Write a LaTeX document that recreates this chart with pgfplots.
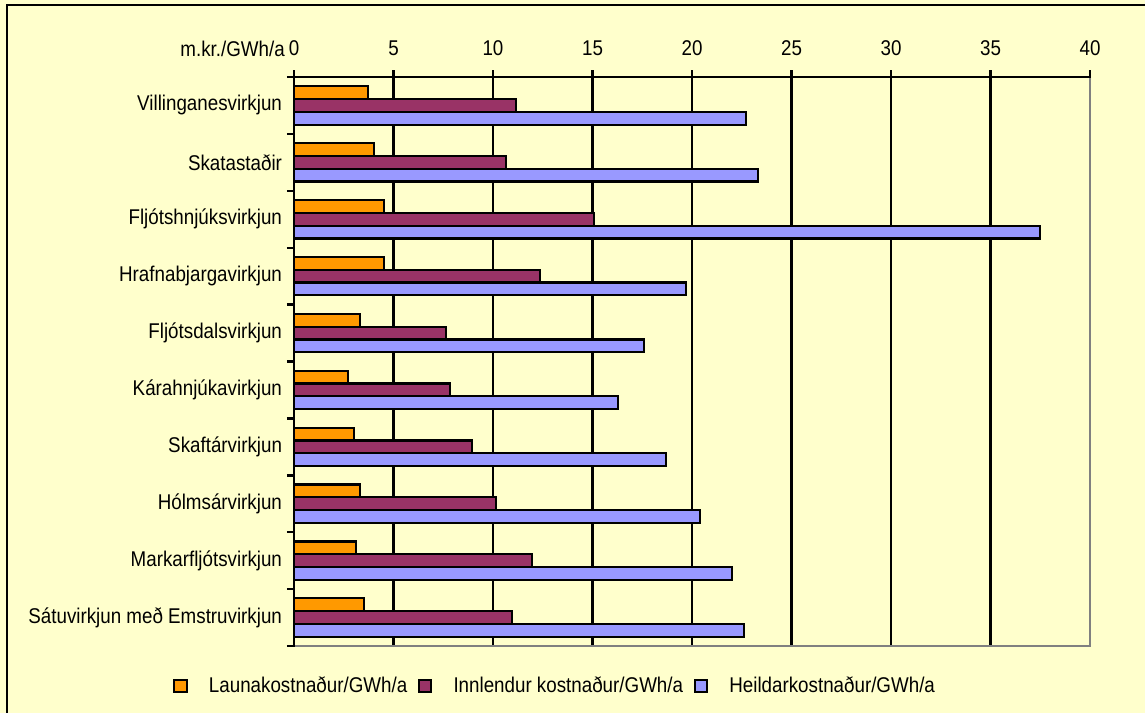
\documentclass[border=0pt]{standalone}
\usepackage{fontspec}
\setmainfont{Liberation Sans}[FakeStretch=0.88]
\usepackage{pgfplots}
\pgfplotsset{compat=1.18}
\definecolor{bg}{HTML}{FFFFCC}
\definecolor{cOr}{HTML}{FF9900}
\definecolor{cMa}{HTML}{993366}
\definecolor{cLa}{HTML}{9999FF}
\newcommand{\lf}{\fontsize{16pt}{18pt}\selectfont}
\pgfplotsset{mylegend/.style={legend image code/.code={\draw[##1, line width=1.5pt, bar shift=0pt] (0pt,-4.6pt) rectangle (9.2pt,4.6pt);}}}
\begin{document}
\begin{tikzpicture}
\useasboundingbox (0,0) rectangle (858.75pt,534.75pt);
\fill[bg] (0,0) rectangle (858.75pt,534.75pt);
\draw[line width=1.6pt] (5.25pt,0) -- (5.25pt,531pt) -- (858.75pt,531pt);
\begin{axis}[
 at={(220.5pt,50.25pt)}, anchor=south west,
 scale only axis, width=597pt, height=426.75pt,
 xbar, xmin=0, xmax=40, ymin=-0.5, ymax=9.5, y dir=reverse,
 bar width=0.225,
 axis line style={draw=none},
 xtick={0,5,...,40}, xtick pos=right, xticklabel pos=right,
 /pgf/number format/assume math mode=true,
 tick align=outside, major tick length=5.25pt,
 tick style={black, line width=1.8pt},
 xmajorgrids, grid style={black, line width=1.8pt},
 ytick={-0.5,0.5,...,9.5}, yticklabels={}, ytick pos=left,
 extra y ticks={0,1,2,3,4,5,6,7,8,9},
 extra y tick labels={Villinganesvirkjun,Skatastaðir,Fljótshnjúksvirkjun,Hrafnabjargavirkjun,Fljótsdalsvirkjun,Kárahnjúkavirkjun,Skaftárvirkjun,Hólmsárvirkjun,Markarfljótsvirkjun,Sátuvirkjun með Emstruvirkjun},
 extra y tick style={major tick length=0pt, grid=none, yticklabel style={xshift=-5.5pt}},
 tick label style={font=\lf},
 xticklabel style={yshift=7pt},
 clip=false,
 legend style={at={(axis description cs:0.3285,-0.0703)}, anchor=center, draw=none, fill=none, font=\lf,
   /tikz/every even column/.append style={column sep=6pt},
   /tikz/every odd column/.append style={column sep=14pt}},
 legend columns=-1,
]
\addplot[fill=cOr, draw=black, line width=1.6pt, bar shift=-0.225, mylegend] coordinates {
(3.72,0) (4.04,1) (4.54,2) (4.54,3) (3.33,4) (2.73,5) (3.03,6) (3.33,7) (3.13,8) (3.53,9)};
\addplot[fill=cMa, draw=black, line width=1.6pt, bar shift=0, mylegend] coordinates {
(11.16,0) (10.67,1) (15.08,2) (12.36,3) (7.64,4) (7.86,5) (8.96,6) (10.17,7) (11.97,8) (10.97,9)};
\addplot[fill=cLa, draw=black, line width=1.6pt, bar shift=0.225, mylegend] coordinates {
(22.7,0) (23.3,1) (37.5,2) (19.7,3) (17.6,4) (16.3,5) (18.69,6) (20.42,7) (22.03,8) (22.6,9)};
\legend{Launakostnaður/GWh/a, Innlendur kostnaður/GWh/a, Heildarkostnaður/GWh/a}
\draw[gray, line width=1.8pt, line cap=rect] (axis description cs:1,1) -- (axis description cs:1,0) -- (axis description cs:0,0);
\draw[black, line width=1.8pt, line cap=rect] (axis description cs:0,0) -- (axis description cs:0,1) -- (axis description cs:1,1);
\node[anchor=base east, font=\lf, inner sep=0pt] at (axis description cs:0,1) [xshift=-6.75pt, yshift=15.5pt] {m.kr./GWh/a};
\end{axis}
\end{tikzpicture}
\end{document}
